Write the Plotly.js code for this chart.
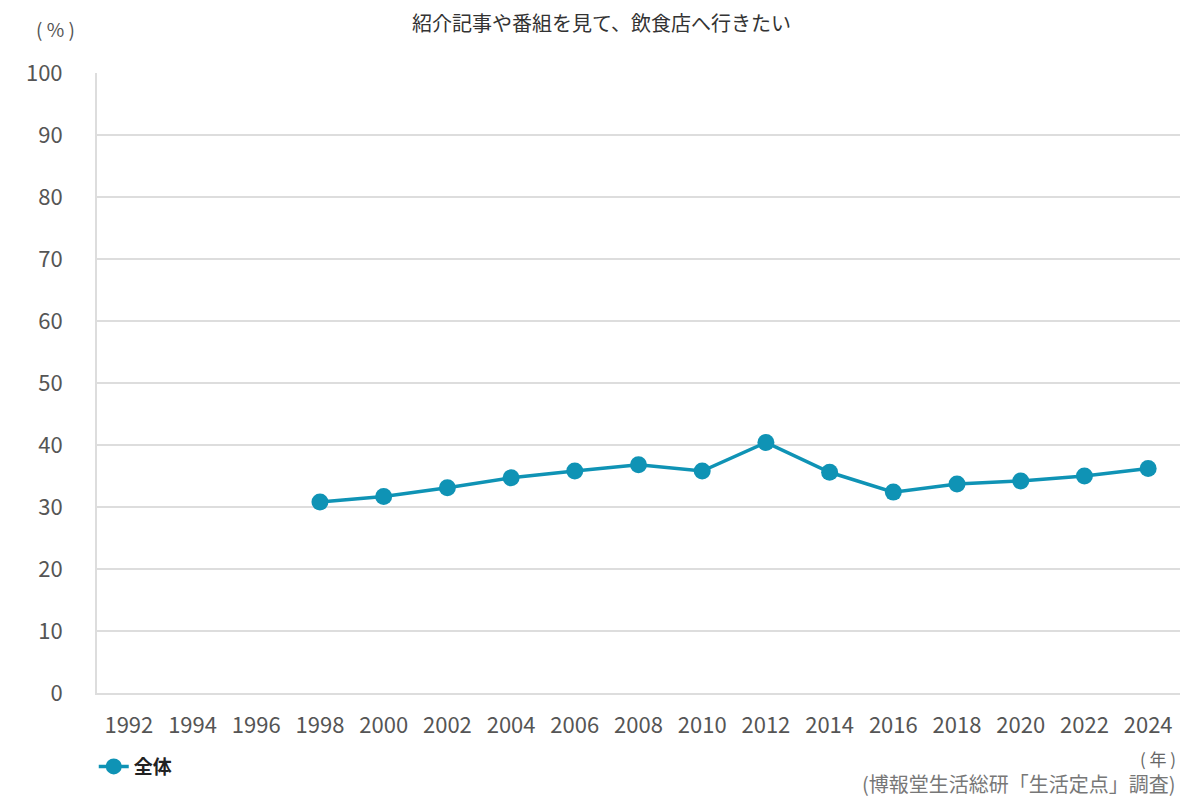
<!DOCTYPE html>
<html><head><meta charset="utf-8">
<script src="https://cdn.plot.ly/plotly-3.0.1.min.js"></script>
<style>body{margin:0;background:#fff}#c{width:1200px;height:800px}</style>
</head><body><div id="c"></div>
<script>
const years = ['1992','1994','1996','1998','2000','2002','2004','2006','2008','2010','2012','2014','2016','2018','2020','2022','2024'];
const values = [null,null,null,30.8,31.7,33.1,34.7,35.8,36.8,35.8,40.4,35.6,32.4,33.7,34.2,35.0,36.2];
const seriesName = '全体';
const chartTitle = '紹介記事や番組を見て、飲食店へ行きたい';
const yUnit = '( % )';
const xUnit = '( 年 )';
const source = '(博報堂生活総研「生活定点」調査)';
const yTicks = [0,10,20,30,40,50,60,70,80,90,100];

const F = '"Noto Sans CJK JP", "Noto Sans", sans-serif';
const color = '#0f93b5';
Plotly.newPlot('c', [{
  x: years, y: values, type: 'scatter', mode: 'lines+markers', name: seriesName,
  line: {color: color, width: 3.5}, marker: {color: color, size: 17},
  connectgaps: false
}], {
  width: 1200, height: 800,
  margin: {l: 97, r: 20, t: 73, b: 107},
  paper_bgcolor: '#fff', plot_bgcolor: '#fff',
  font: {family: F, color: '#555'},
  showlegend: true,
  legend: {x: -0.003, xanchor: 'left', y: -0.088, yanchor: 'top', xref: 'paper', yref: 'paper',
           orientation: 'h', font: {size: 19, color: '#222', family: F, weight: 'bold'}, itemwidth: 30},
  xaxis: {type: 'category', range: [-0.5, 16.5], tickfont: {size: 22, color: '#555'},
          showline: true, linecolor: '#ddd', linewidth: 2, showgrid: false,
          ticks: 'outside', ticklen: 12, tickcolor: 'rgba(0,0,0,0)', fixedrange: true},
  yaxis: {range: [0, 100], tickvals: yTicks, tickfont: {size: 22, color: '#555'},
          showline: true, linecolor: '#ddd', linewidth: 2, gridcolor: '#ddd', gridwidth: 1.5,
          ticks: 'outside', ticklen: 28, tickcolor: 'rgba(0,0,0,0)', zeroline: false},
  annotations: [
    {text: chartTitle, xref: 'paper', yref: 'paper', x: 0.5, y: 1, yshift: 51, xanchor: 'center', yanchor: 'middle', showarrow: false,
     font: {size: 20, color: '#333', family: F}, xshift: -37},
    {text: yUnit, xref: 'paper', yref: 'paper', x: 0, xshift: -42, y: 1, yshift: 45, xanchor: 'center', yanchor: 'middle', showarrow: false,
     font: {size: 19, color: '#555', family: F}},
    {text: xUnit, xref: 'paper', yref: 'paper', x: 1, xshift: -2, y: 0, yshift: -65, xanchor: 'right', yanchor: 'middle', showarrow: false,
     font: {size: 17, color: '#666', family: F}},
    {text: source, xref: 'paper', yref: 'paper', x: 1, xshift: -2, y: 0, yshift: -90, xanchor: 'right', yanchor: 'middle', showarrow: false,
     font: {size: 20, color: '#777', family: F}}
  ]
}, {displayModeBar: false});
</script></body></html>
